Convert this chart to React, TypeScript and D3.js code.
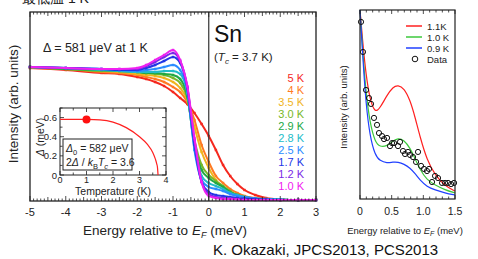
import React from 'react';
import * as d3 from 'd3';

// main panel: energies (meV) and intensity per temperature (counts, arb.)
const energies = [-5, -4, -3, -2.5, -2, -1.75, -1.5, -1.25, -1.0, -0.8, -0.6, -0.4, -0.2, 0, 0.2, 0.4, 0.6, 0.8, 1.0, 1.3, 1.6, 2.0, 2.5, 3.0];
const tempLabels = ['5 K', '4 K', '3.5 K', '3.0 K', '2.9 K', '2.8 K', '2.5 K', '1.7 K', '1.2 K', '1.0 K'];
const tempColors = ['#f5281e', '#ff7a22', '#f0b41e', '#78b828', '#22a844', '#22bcc8', '#2a8cff', '#2236e6', '#7a2ae6', '#f020f0'];
const spec5K = [132, 130, 127, 126, 123, 121, 118, 114, 108, 102, 96, 87, 76, 64, 50, 35, 24, 16, 10, 5, 2, 0.5, 0, 0];
const spec4K = [132, 131, 128, 127, 125, 123, 121, 118, 113, 108, 98, 80, 55, 38, 24, 17, 11, 7, 4, 2, 1, 0, 0, 0];
const spec35K = [133, 131, 129, 128, 126, 125, 124, 122, 118, 112, 100, 73, 48, 32, 20, 13, 8, 5, 3, 1, 0.5, 0, 0, 0];
const spec30K = [133, 131, 129, 129, 128, 127, 126, 125, 122, 117, 102, 60, 35, 25, 19, 14, 9, 5, 3, 1, 0.5, 0, 0, 0];
const spec29K = [133, 131, 130, 129, 128, 127, 127, 126, 125, 121, 104, 55, 30, 22, 17, 13, 8, 5, 3, 1.5, 1, 0.5, 0, 0];
const spec28K = [133, 132, 130, 129, 128, 128, 128, 129, 129, 126, 107, 52, 24, 17, 14, 11, 7, 5, 3, 1.5, 1, 0.5, 0, 0];
const spec25K = [133, 132, 131, 130, 129, 130, 131, 133, 135, 130, 109, 50, 20, 13, 11, 9, 6, 4, 3, 1.5, 1, 0.5, 0, 0];
const spec17K = [133, 132, 131, 130, 130, 132, 135, 139, 143, 137, 112, 55, 18, 8, 5, 4, 3, 2, 1.5, 1, 0.5, 0, 0, 0];
const spec12K = [133, 132, 131, 131, 131, 134, 138, 143, 147, 139, 113, 60, 18, 6, 3, 2, 1.5, 1, 0.5, 0, 0, 0, 0, 0];
const spec10K = [133, 132, 131, 131, 132, 135, 140, 145, 150, 140, 114, 62, 18, 4, 2, 1, 1, 0.5, 0, 0, 0, 0, 0, 0];
const spectra = [spec5K, spec4K, spec35K, spec30K, spec29K, spec28K, spec25K, spec17K, spec12K, spec10K];
const mainTicks = [-5, -4, -3, -2, -1, 0, 1, 2, 3];

// inset: gap vs temperature
const gapT = [0, 0.5, 1.0, 1.5, 2.0, 2.5, 3.0, 3.3, 3.5, 3.6, 3.65, 3.68, 3.7];
const gapD = [0.582, 0.582, 0.581, 0.576, 0.553, 0.495, 0.40, 0.32, 0.236, 0.166, 0.117, 0.075, 0];
const insetXTicks = [0, 1, 2, 3, 4];
const insetYTicks = [0, 0.2, 0.4, 0.6];

// right panel: simulated spectra and data
const simE = [0, 0.047, 0.095, 0.158, 0.237, 0.316, 0.427, 0.521, 0.6, 0.695, 0.79, 0.869, 0.948, 1.058, 1.185, 1.343, 1.5];
const sim11K = [100, 81.5, 65.6, 52.4, 45.5, 48.1, 55, 59.3, 60.3, 58.7, 52.4, 43.4, 32.8, 20.6, 12.7, 6.9, 4.2];
const sim10K = [100, 76.2, 56, 40, 30.2, 27.5, 28.0, 30.7, 32.3, 31.2, 27, 21.5, 15.5, 10, 7.4, 4.8, 3.2];
const sim09K = [100, 73.5, 50, 33, 23.3, 20.1, 19.0, 19.6, 19.6, 18.5, 16.4, 13.5, 10, 6.5, 4.8, 3.2, 2.1];
const simLabels = ['1.1K', '1.0 K', '0.9 K'];
const simColors = ['#ff2020', '#3cc83c', '#2040ff'];
const dataE = [0.016, 0.047, 0.095, 0.142, 0.174, 0.221, 0.269, 0.3, 0.348, 0.379, 0.427, 0.474, 0.506, 0.537, 0.6, 0.632, 0.679, 0.711, 0.758, 0.79, 0.837, 0.885, 0.916, 0.964, 1.011, 1.058, 1.09, 1.137, 1.185, 1.232, 1.295, 1.343, 1.39, 1.438, 1.485];
const dataI = [93.7, 77.8, 57.7, 53.4, 50.3, 42.9, 39.2, 34.9, 33.3, 31.7, 32.3, 28.0, 29.6, 29.6, 28.0, 30.2, 25.4, 23.8, 24.9, 23.3, 22.2, 19.6, 24.9, 17.5, 15.9, 14.8, 15.9, 9.0, 12.2, 11.1, 8.5, 8.5, 8.5, 7.9, 8.5];
const rightTicks = [0, 0.5, 1.0, 1.5];
const rightTickLabels = ['0', '0.5', '1.0', '1.5'];

const font = 'Liberation Sans, Arial, Helvetica, sans-serif';

export default function App() {
  const x = d3.scaleLinear().domain([-5, 3]).range([30, 316]);
  const y = d3.scaleLinear().domain([0, 188]).range([200, 12]);
  const line = (vals: number[]) =>
    d3.line<number>().x((_, i) => x(energies[i])).y((d) => y(d)).curve(d3.curveMonotoneX)(vals) || '';

  const xi = d3.scaleLinear().domain([0, 4]).range([60, 166]);
  const yi = d3.scaleLinear().domain([0, 0.7]).range([175, 108]);
  const gapLine = d3.line<number>().x((_, i) => xi(gapT[i])).y((d) => yi(d)).curve(d3.curveMonotoneX)(gapD) || '';

  const xr = d3.scaleLinear().domain([0, 1.5]).range([360, 455]);
  const yr = d3.scaleLinear().domain([0, 100]).range([199, 10]);
  const simLine = (vals: number[]) =>
    d3.line<number>().x((_, i) => xr(simE[i])).y((d) => yr(d)).curve(d3.curveBasis)(vals) || '';

  const minor = d3.range(-5, 3.001, 0.1);
  const rMinor = d3.range(0, 1.501, 0.1);

  return (
    <div style={{ position: 'absolute', left: 0, top: 0 }}>
      <svg width={478} height={259} style={{ display: 'block', background: '#fff' }} fontFamily={font}>
        <text x={22} y={3} fontSize={14} fill="#222">最低温 1 K</text>

        {/* main panel */}
        <g>
          {spectra.map((s, k) => (
            <g key={k}>
              {s.map((v, i) => (
                <rect key={i} x={x(energies[i]) - 1.2} y={y(v) - 1.2} width={2.4} height={2.4} fill={tempColors[k]} />
              ))}
              <path d={line(s)} fill="none" stroke={tempColors[k]} strokeWidth={2} />
            </g>
          ))}
          <line x1={x(0)} x2={x(0)} y1={12} y2={201} stroke="#333" strokeWidth={1.2} />
          <rect x={30} y={12} width={286} height={189} fill="none" stroke="#222" strokeWidth={1.3} />
          {minor.map((t, i) => {
            const major = Math.abs(t - Math.round(t)) < 0.01;
            const half = Math.abs(t * 2 - Math.round(t * 2)) < 0.01;
            const len = major ? 5 : half ? 4 : 2.5;
            return (
              <g key={i} stroke="#222" strokeWidth={0.8}>
                <line x1={x(t)} x2={x(t)} y1={201} y2={201 - len} />
                <line x1={x(t)} x2={x(t)} y1={12} y2={12 + len} />
              </g>
            );
          })}
          {mainTicks.map((t) => (
            <text key={t} x={x(t)} y={216} fontSize={11} textAnchor="middle" fill="#222">{t}</text>
          ))}
          <text x={165} y={235} fontSize={13.5} textAnchor="middle" fill="#222">
            Energy relative to <tspan fontStyle="italic">E</tspan><tspan fontStyle="italic" fontSize={9} dy={3}>F</tspan><tspan dy={-3}> (meV)</tspan>
          </text>
          <text transform="translate(18,104) rotate(-90)" fontSize={13.5} textAnchor="middle" fill="#222">Intensity (arb. units)</text>
          <text x={43} y={52} fontSize={12.5} fill="#222">Δ = 581 μeV at 1 K</text>
          <text x={214} y={42} fontSize={23} fill="#111">Sn</text>
          <text x={214} y={61} fontSize={11.5} fill="#222">
            (<tspan fontStyle="italic">T</tspan><tspan fontStyle="italic" fontSize={8} dy={3}>c</tspan><tspan dy={-3}> = 3.7 K)</tspan>
          </text>
          {tempLabels.map((l, k) => (
            <text key={l} x={304} y={82 + k * 12} fontSize={11} textAnchor="end" fill={tempColors[k]}>{l}</text>
          ))}
        </g>

        {/* inset */}
        <g>
          <rect x={60} y={108} width={106} height={67} fill="#fff" stroke="#222" strokeWidth={1} />
          {d3.range(0, 4.01, 0.5).map((t, i) => {
            const len = Number.isInteger(t) ? 4 : 2.5;
            return (
              <g key={i} stroke="#222" strokeWidth={0.8}>
                <line x1={xi(t)} x2={xi(t)} y1={175} y2={175 - len} />
                <line x1={xi(t)} x2={xi(t)} y1={108} y2={108 + len} />
              </g>
            );
          })}
          {d3.range(0, 0.701, 0.1).map((t, i) => {
            const len = Math.round(t * 10) % 2 === 0 ? 4 : 2.5;
            return (
              <g key={i} stroke="#222" strokeWidth={0.8}>
                <line x1={60} x2={60 + len} y1={yi(t)} y2={yi(t)} />
                <line x1={166} x2={166 - len} y1={yi(t)} y2={yi(t)} />
              </g>
            );
          })}
          {insetXTicks.map((t) => (
            <text key={t} x={xi(t)} y={183} fontSize={9} textAnchor="middle" fill="#222">{t}</text>
          ))}
          {insetYTicks.map((t) => (
            <text key={t} x={57} y={yi(t) + 3.5} fontSize={9.5} textAnchor="end" fill="#222">{t === 0 ? '0' : t.toFixed(1)}</text>
          ))}
          <text x={113} y={194.5} fontSize={10.5} textAnchor="middle" fill="#222">Temperature (K)</text>
          <text transform="translate(44,137) rotate(-90)" fontSize={10.5} textAnchor="middle" fill="#222">
            <tspan fontStyle="italic">Δ</tspan> (meV)
          </text>
          <path d={gapLine} fill="none" stroke="#ff2020" strokeWidth={1.2} />
          <circle cx={xi(1)} cy={yi(0.581)} r={4} fill="#ff1010" />
          <rect x={63} y={139} width={69} height={31} fill="#fff" stroke="#222" strokeWidth={1} />
          <text x={66} y={152} fontSize={10.5} fill="#222">
            <tspan fontStyle="italic">Δ</tspan><tspan fontSize={7.5} dy={3}>0</tspan><tspan dy={-3}> = 582 μeV</tspan>
          </text>
          <text x={66} y={166} fontSize={10.5} fill="#222">
            2<tspan fontStyle="italic">Δ</tspan> / <tspan fontStyle="italic">k</tspan><tspan fontSize={7.5} dy={3}>B</tspan><tspan fontStyle="italic" dy={-3}>T</tspan><tspan fontSize={7.5} fontStyle="italic" dy={3}>c</tspan><tspan dy={-3}> = 3.6</tspan>
          </text>
        </g>

        {/* right panel */}
        <g>
          {[sim11K, sim10K, sim09K].map((s, k) => (
            <path key={k} d={simLine(s)} fill="none" stroke={simColors[k]} strokeWidth={1.2} />
          ))}
          {dataE.map((e, i) => (
            <circle key={i} cx={xr(e)} cy={yr(dataI[i])} r={2.6} fill="none" stroke="#111" strokeWidth={1} />
          ))}
          <rect x={360} y={10} width={95} height={189} fill="none" stroke="#222" strokeWidth={1.2} />
          {rMinor.map((t, i) => {
            const len = Math.abs(t * 2 - Math.round(t * 2)) < 0.01 ? 4 : 2.5;
            return (
              <g key={i} stroke="#222" strokeWidth={0.8}>
                <line x1={xr(t)} x2={xr(t)} y1={199} y2={199 - len} />
                <line x1={xr(t)} x2={xr(t)} y1={10} y2={10 + len} />
              </g>
            );
          })}
          {rightTicks.map((t, i) => (
            <text key={t} x={xr(t)} y={215} fontSize={10.5} textAnchor="middle" fill="#222">{rightTickLabels[i]}</text>
          ))}
          <text x={405} y={234} fontSize={9.5} textAnchor="middle" fill="#222">
            Energy relative to <tspan fontStyle="italic">E</tspan><tspan fontStyle="italic" fontSize={7} dy={2}>F</tspan><tspan dy={-2}> (meV)</tspan>
          </text>
          <text transform="translate(347,107) rotate(-90)" fontSize={9.5} textAnchor="middle" fill="#222">Intensity (arb. units)</text>
          {simLabels.map((l, k) => (
            <g key={l}>
              <line x1={406} x2={422} y1={26 + k * 11} y2={26 + k * 11} stroke={simColors[k]} strokeWidth={1.5} />
              <text x={427} y={29.5 + k * 11} fontSize={9.5} fill="#222">{l}</text>
            </g>
          ))}
          <circle cx={415} cy={59} r={2.8} fill="none" stroke="#111" strokeWidth={1} />
          <text x={427} y={62.5} fontSize={9.5} fill="#222">Data</text>
        </g>

        <text x={213} y={255} fontSize={15} fill="#111">K. Okazaki, JPCS2013, PCS2013</text>
      </svg>
    </div>
  );
}
